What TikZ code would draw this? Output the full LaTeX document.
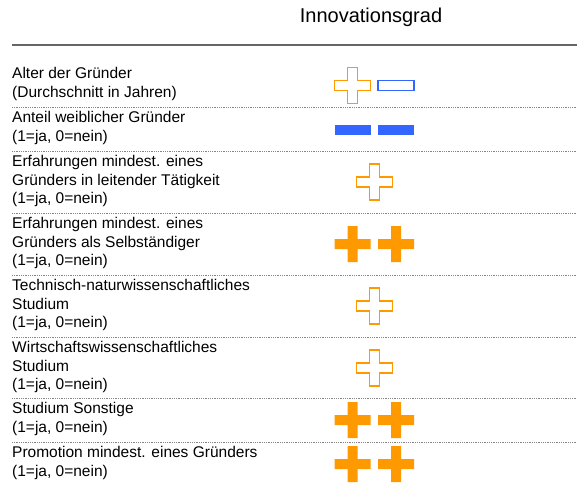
\documentclass[tikz,border=0pt]{standalone}
\usepackage{fontspec}
\setmainfont{Liberation Sans}
\usetikzlibrary{positioning}
\definecolor{plusorange}{HTML}{FF9900}
\definecolor{minusblue}{HTML}{3366FF}
\definecolor{rulegray}{HTML}{666666}
\def\armhalf{5}
\def\symhalf{18}
\def\leftx{352.5}
\def\rightx{396}
\def\midx{374.5}

\begin{document}
\begin{tikzpicture}[x=1pt, y=-1pt]
    \tikzstyle{rowlabel}=[anchor=west, align=left, inner sep=0pt, font=\fontsize{15.5}{18.5}\selectfont]
    \tikzstyle{headline}=[inner sep=0pt, font=\fontsize{20}{22}\selectfont]
    \tikzstyle{separator}=[draw=rulegray!80, densely dotted, line width=0.8pt]
    \tikzset{
        plusshape/.pic={
            \path[pic actions] (-\armhalf,-\symhalf) -- (\armhalf,-\symhalf) -- (\armhalf,-\armhalf)
                -- (\symhalf,-\armhalf) -- (\symhalf,\armhalf) -- (\armhalf,\armhalf)
                -- (\armhalf,\symhalf) -- (-\armhalf,\symhalf) -- (-\armhalf,\armhalf)
                -- (-\symhalf,\armhalf) -- (-\symhalf,-\armhalf) -- (-\armhalf,-\armhalf) -- cycle;
        },
        minusshape/.pic={
            \path[pic actions] (-\symhalf,-\armhalf) rectangle (\symhalf,\armhalf);
        },
        plusopen/.style={draw=plusorange, fill=white, line width=1.3pt},
        plusfull/.style={fill=plusorange},
        minusopen/.style={draw=minusblue, fill=white, line width=1.3pt},
        minusfull/.style={fill=minusblue}
    }
    \useasboundingbox (0,0) rectangle (577,493);

    % Header
    \node[headline] (title) at (371,17) {Innovationsgrad};
    \draw[rulegray, line width=1.6pt] (12,45) -- (577,45);

    % Row labels
    \foreach \ypos/\txt [count=\i] in {
        84/{Alter der Gründer\\(Durchschnitt in Jahren)},
        128/{Anteil weiblicher Gründer\\(1=ja, 0=nein)},
        181/{Erfahrungen mindest. eines\\Gründers in leitender Tätigkeit\\(1=ja, 0=nein)},
        243/{Erfahrungen mindest. eines\\Gründers als Selbständiger\\(1=ja, 0=nein)},
        305/{Technisch-naturwissenschaftliches\\Studium\\(1=ja, 0=nein)},
        367/{Wirtschaftswissenschaftliches\\Studium\\(1=ja, 0=nein)},
        419/{Studium Sonstige\\(1=ja, 0=nein)},
        463/{Promotion mindest. eines Gründers\\(1=ja, 0=nein)}}
        \node[rowlabel] (label-\i) at (12,\ypos) {\txt};

    % Dotted separators
    \foreach \ypos in {107,151,213,275,337,398,442}
        \draw[separator] (12,\ypos) -- (577,\ypos);

    % Symbols
    \pic[plusopen] at (\leftx,85.5) {plusshape};
    \pic[minusopen] at (\rightx,85.5) {minusshape};
    \pic[minusfull] at (\leftx,129.5) {minusshape};
    \pic[minusfull] at (\rightx,129.5) {minusshape};
    \foreach \ypos in {182,306,368}
        \pic[plusopen] at (\midx,\ypos) {plusshape};
    \foreach \ypos in {244,420,464}
        \foreach \xpos in {\leftx,\rightx}
            \pic[plusfull] at (\xpos,\ypos) {plusshape};
\end{tikzpicture}
\end{document}
